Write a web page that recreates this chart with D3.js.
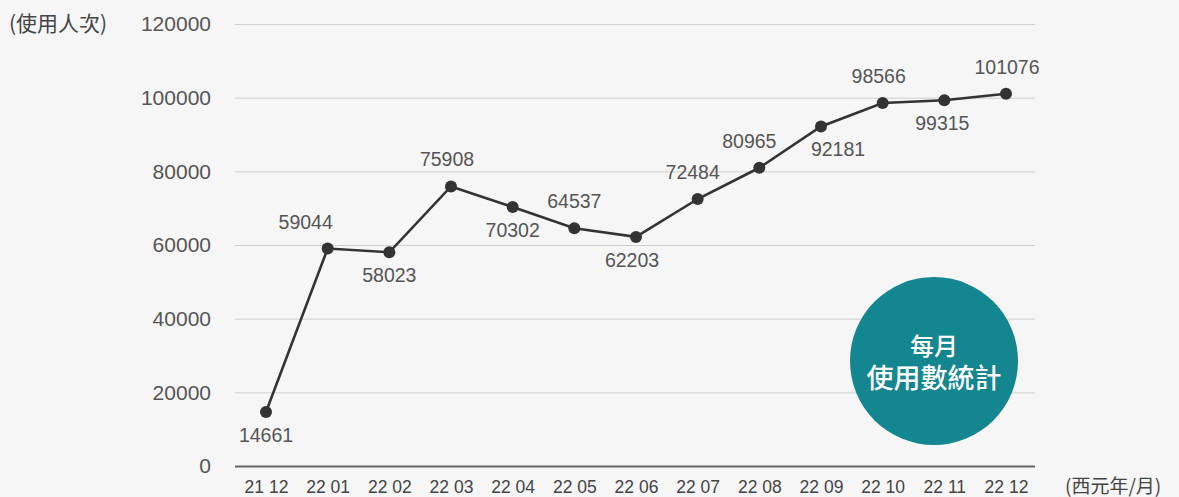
<!DOCTYPE html>
<html lang="zh-Hant">
<head>
<meta charset="UTF-8">
<title>每月使用數統計</title>
<script src="https://d3js.org/d3.v7.min.js"></script>
<style>
    body {
        margin: 0;
        background: #f6f6f6;
        font-family: "Liberation Sans", Arial, sans-serif;
    }
    .grid line { stroke: #cfcfcf; stroke-width: 1; }
    .grid text { fill: #555; font-size: 21px; }
    .xaxis text { fill: #444; font-size: 17.5px; }
    .value-label { fill: #555; font-size: 19.5px; text-anchor: middle; }
    .unit { fill: #444; font-family: "Noto Sans CJK TC", sans-serif; }
</style>
</head>
<body>
<div id="chart"></div>
<script>
// data
const months = ["21 12", "22 01", "22 02", "22 03", "22 04", "22 05", "22 06",
                "22 07", "22 08", "22 09", "22 10", "22 11", "22 12"];
const visits = [14661, 59044, 58023, 75908, 70302, 64537, 62203,
                72484, 80965, 92181, 98566, 99315, 101076];
const yTicks = [0, 20000, 40000, 60000, 80000, 100000, 120000];

// which side each value label goes, and small nudges so they don't hit the line
const labelSide = ["below", "above", "below", "above", "below", "above", "below",
                   "above", "above", "below", "above", "below", "above"];
const labelNudge = [0, -22, 0, -4, 0, 0, -4, -5, -10, 17, -4, -2, 1];

const W = 1179, H = 497;

const svg = d3.select("#chart")
    .append("svg")
    .attr("width", W)
    .attr("height", H);

const x = d3.scalePoint()
    .domain(months)
    .range([266, 1006]);

const y = d3.scaleLinear()
    .domain([0, 120000])
    .range([466, 24]);

// gridlines + y labels
const grid = svg.append("g")
    .attr("class", "grid")
    .attr("transform", "translate(235,0)")
    .call(d3.axisLeft(y)
        .tickValues(yTicks)
        .tickSize(-800)
        .tickPadding(24)
        .tickFormat(d3.format("d")));
grid.select(".domain").remove();
grid.selectAll(".tick")
    .filter(d => d === 0)
    .select("line")
    .style("stroke", "#666")
    .style("stroke-width", 2);

// x axis labels
const xa = svg.append("g")
    .attr("class", "xaxis")
    .attr("transform", "translate(0,466)")
    .call(d3.axisBottom(x).tickSize(0).tickPadding(15));
xa.select(".domain").remove();

// unit labels
svg.append("text")
    .attr("class", "unit")
    .attr("x", 9)
    .attr("y", 31)
    .style("font-size", "21px")
    .text("(使用人次)");

svg.append("text")
    .attr("class", "unit")
    .attr("x", 1065)
    .attr("y", 493)
    .style("font-size", "19px")
    .text("(西元年/月)");

// badge
const badge = svg.append("g").attr("transform", "translate(934,361)");
badge.append("circle")
    .attr("r", 84)
    .attr("fill", "#13868f");
badge.append("text")
    .attr("y", -6)
    .attr("text-anchor", "middle")
    .attr("fill", "#fff")
    .style("font-family", "'Noto Sans CJK TC', sans-serif")
    .style("font-size", "24px")
    .style("font-weight", 500)
    .text("每月");
badge.append("text")
    .attr("y", 27)
    .attr("text-anchor", "middle")
    .attr("fill", "#fff")
    .style("font-family", "'Noto Sans CJK TC', sans-serif")
    .style("font-size", "27px")
    .style("font-weight", 500)
    .text("使用數統計");

// line
const pts = months.map((m, i) => ({ m: m, v: visits[i], i: i }));

const line = d3.line()
    .x(d => x(d.m))
    .y(d => y(d.v));

svg.append("path")
    .datum(pts)
    .attr("fill", "none")
    .attr("stroke", "#333")
    .attr("stroke-width", 2.6)
    .attr("d", line);

svg.selectAll(".dot")
    .data(pts)
    .enter().append("circle")
    .attr("class", "dot")
    .attr("cx", d => x(d.m))
    .attr("cy", d => y(d.v))
    .attr("r", 6)
    .attr("fill", "#333");

svg.selectAll(".value-label")
    .data(pts)
    .enter().append("text")
    .attr("class", "value-label")
    .attr("x", d => x(d.m) + labelNudge[d.i])
    .attr("y", d => y(d.v) + (labelSide[d.i] === "above" ? -20 : 30))
    .text(d => d.v);
</script>
</body>
</html>
